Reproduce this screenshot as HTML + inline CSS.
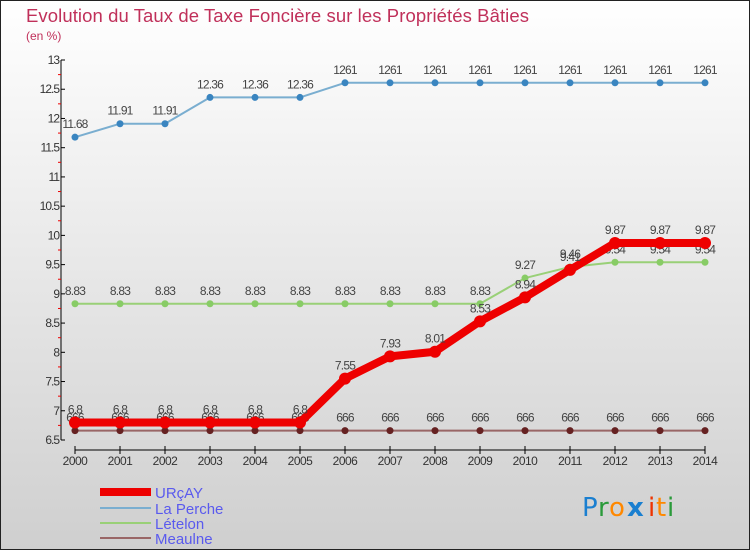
<!DOCTYPE html>
<html><head><meta charset="utf-8"><style>
body{margin:0}
#c{width:750px;height:550px;position:relative;overflow:hidden;font-family:"Liberation Sans",sans-serif}
</style></head><body>
<div id="c">
<svg id="s" width="750" height="550" xmlns="http://www.w3.org/2000/svg">
<defs><linearGradient id="bg" x1="0" y1="0" x2="0" y2="1"><stop offset="0" stop-color="#ffffff"/><stop offset="1" stop-color="#cfcfcf"/></linearGradient></defs>
<rect x="0.5" y="0.5" width="749" height="549" fill="url(#bg)" stroke="#222"/>
<text x="26" y="22" font-size="18.5" fill="#c0305a" textLength="503">Evolution du Taux de Taxe Foncière sur les Propriétés Bâties</text>
<text x="26" y="40" font-size="12" fill="#c0305a">(en %)</text>
<g id="axes"></g><g id="series"></g>
<g>
<line x1="100" y1="492" x2="151" y2="492" stroke="#ee0000" stroke-width="8"/>
<text x="155" y="498" font-size="15" fill="#5a5aee">URçAY</text>
<line x1="100" y1="508" x2="151" y2="508" stroke="#7aaed0" stroke-width="2"/>
<text x="155" y="514" font-size="15" fill="#5a5aee">La Perche</text>
<line x1="100" y1="523" x2="151" y2="523" stroke="#99d077" stroke-width="2"/>
<text x="155" y="529" font-size="15" fill="#5a5aee">Lételon</text>
<line x1="100" y1="538" x2="151" y2="538" stroke="#996666" stroke-width="2"/>
<text x="155" y="544" font-size="15" fill="#5a5aee">Meaulne</text>
</g>
<g font-size="26" font-family="DejaVu Sans, sans-serif">
<text x="582" y="516" fill="#1a7fd0">P</text><text x="598" y="516" fill="#2a9a3a">r</text><text x="609" y="516" fill="#ff8800">o</text><text x="627" y="516" fill="#1a7fd0" font-weight="bold">x</text><text x="648" y="516" fill="#ee3300">i</text><text x="656" y="516" fill="#ff8800">t</text><text x="667" y="516" fill="#2a9a3a">i</text>
</g>
</svg>
</div>
<script>
const years=[2000,2001,2002,2003,2004,2005,2006,2007,2008,2009,2010,2011,2012,2013,2014];
const yTicks=[6.5,7,7.5,8,8.5,9,9.5,10,10.5,11,11.5,12,12.5,13];
const urcay=[6.8,6.8,6.8,6.8,6.8,6.8,7.55,7.93,8.01,8.53,8.94,9.41,9.87,9.87,9.87];
const laPerche=[11.68,11.91,11.91,12.36,12.36,12.36,12.61,12.61,12.61,12.61,12.61,12.61,12.61,12.61,12.61];
const letelon=[8.83,8.83,8.83,8.83,8.83,8.83,8.83,8.83,8.83,8.83,9.27,9.46,9.54,9.54,9.54];
const meaulne=[6.66,6.66,6.66,6.66,6.66,6.66,6.66,6.66,6.66,6.66,6.66,6.66,6.66,6.66,6.66];
const NS="http://www.w3.org/2000/svg";
const X=i=>75+i*45, Y=v=>440-(v-6.5)/6.5*380;
function mk(t,a,p){const e=document.createElementNS(NS,t);for(const k in a)e.setAttribute(k,a[k]);(p||document.getElementById('series')).appendChild(e);return e;}
const ax=document.getElementById('axes');
let e=mk('line',{x1:61,y1:Y(13),x2:61,y2:Y(6.5),stroke:'#000'},ax);

yTicks.forEach((v,i)=>{mk('line',{x1:61,y1:Y(v),x2:65,y2:Y(v),stroke:'#000'},ax);
 if(i<yTicks.length-1)mk('line',{x1:58,y1:Y(v+0.25),x2:61,y2:Y(v+0.25),stroke:'#e00'},ax);
 const t=mk('text',{x:59,y:Y(v)+4,'font-size':12,'text-anchor':'end',fill:'#333','letter-spacing':'-1'},ax);t.textContent=String(v);
 });
e=mk('line',{x1:X(0),y1:450,x2:X(14),y2:450,stroke:'#000'},ax);

years.forEach((y,i)=>{mk('line',{x1:X(i),y1:446,x2:X(i),y2:454,stroke:'#000'},ax);
 const t=mk('text',{x:X(i),y:465,'font-size':12,'text-anchor':'middle',fill:'#333','letter-spacing':'-0.5'},ax);t.textContent=y;
 });
function series(d,name,col,w,r,dot,fmt){
 const g=mk('g',{});
 mk('polyline',{points:d.map((v,i)=>X(i)+','+Y(v)).join(' '),fill:'none',stroke:col,'stroke-width':w,'stroke-linejoin':'round'},g);
 d.forEach((v,i)=>{const c=mk('circle',{cx:X(i),cy:Y(v),r:r,fill:dot},g);
  const t=mk('text',{x:X(i),y:Y(v)-9,'font-size':12,'text-anchor':'middle',fill:'#444','letter-spacing':'-0.8'},g);t.textContent=fmt(v);});
}
const f=v=>String(v);
series(meaulne,'meaulne','#996666',2,3.5,'#662222',v=>String(v).replace('.',''));
series(letelon,'letelon','#99d077',2,3.5,'#88cc66',f);
series(laPerche,'la-perche','#7aaed0',2,3.5,'#3a85c0',v=>v>=12.5?String(v).replace('.',''):String(v));
series(urcay,'urcay','#ee0000',8,6,'#ee0000',f);
</script>
</body></html>
